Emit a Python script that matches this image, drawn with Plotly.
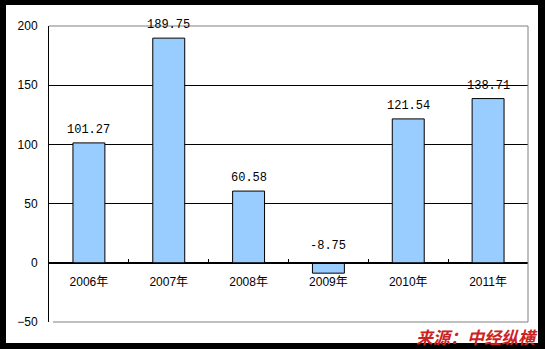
import plotly.graph_objects as go

categories = ["2006年", "2007年", "2008年", "2009年", "2010年", "2011年"]
values = [101.27, 189.75, 60.58, -8.75, 121.54, 138.71]
value_labels = ["101.27", "189.75", "60.58", "-8.75", "121.54", "138.71"]
y_ticks = [-50, 0, 50, 100, 150, 200]
y_min, y_max = -50, 200
source_text = "来源：中经纵横"

W, H = 545, 349
ml, mr, mt, mb = 49, 17, 26, 27
pw, ph = W - ml - mr, H - mt - mb

def px_x(x):
    return (x - ml) / pw

def px_y(y):
    return (H - mb - y) / ph

fig = go.Figure()
fig.add_trace(go.Bar(
    x=categories, y=values, width=0.4,
    marker=dict(color="#99CCFF", line=dict(color="black", width=1)),
    hoverinfo="skip",
))

for c, v, t in zip(categories, values, value_labels):
    fig.add_annotation(x=c, y=max(v, 0), text=t, showarrow=False,
                       yanchor="bottom", yshift=4 if v >= 0 else 8,
                       font=dict(family="Liberation Mono, monospace", size=12, color="black"))

zero_pos = (0 - y_min) / (y_max - y_min)

fig.update_layout(
    width=W, height=H,
    margin=dict(l=ml, r=mr, t=mt, b=mb),
    paper_bgcolor="black",
    plot_bgcolor="white",
    showlegend=False,
    xaxis=dict(
        anchor="free", position=zero_pos,
        showline=True, linecolor="black", linewidth=1,
        ticks="inside", ticklen=4, tickcolor="black", tickson="boundaries",
        ticklabelstandoff=8,
        tickfont=dict(family="Liberation Sans, Noto Sans CJK SC", size=12, color="black"),
        showgrid=False, zeroline=False, fixedrange=True,
    ),
    yaxis=dict(
        range=[y_min, y_max], tickvals=y_ticks,
        showline=True, linecolor="black", linewidth=1,
        ticks="inside", ticklen=4, tickcolor="black",
        ticklabelstandoff=8,
        tickfont=dict(family="Liberation Sans, Arial", size=12, color="black"),
        showgrid=True, gridcolor="black", gridwidth=1,
        zeroline=True, zerolinecolor="black", zerolinewidth=1,
        fixedrange=True,
    ),
    shapes=[
        dict(type="rect", xref="paper", yref="paper",
             x0=px_x(6), x1=px_x(538), y0=px_y(343), y1=px_y(5),
             fillcolor="white", line=dict(width=0), layer="below"),
        dict(type="line", xref="paper", yref="paper", x0=0, x1=1, y0=1, y1=1,
             line=dict(color="#808080", width=1), layer="above"),
        dict(type="line", xref="paper", yref="paper", x0=1, x1=1, y0=0, y1=1,
             line=dict(color="#808080", width=1), layer="above"),
        dict(type="line", xref="paper", yref="paper", x0=px_x(53), x1=1, y0=0, y1=0,
             line=dict(color="#808080", width=1), layer="above"),
    ],
)

fig.add_annotation(xref="paper", yref="paper", x=px_x(540), y=px_y(336),
                   xanchor="right", yanchor="middle", showarrow=False,
                   text="<b><i>" + source_text + "</i></b>",
                   font=dict(family="Noto Sans CJK SC", size=17, color="#CC2222"))

fig.write_html("out.html")
